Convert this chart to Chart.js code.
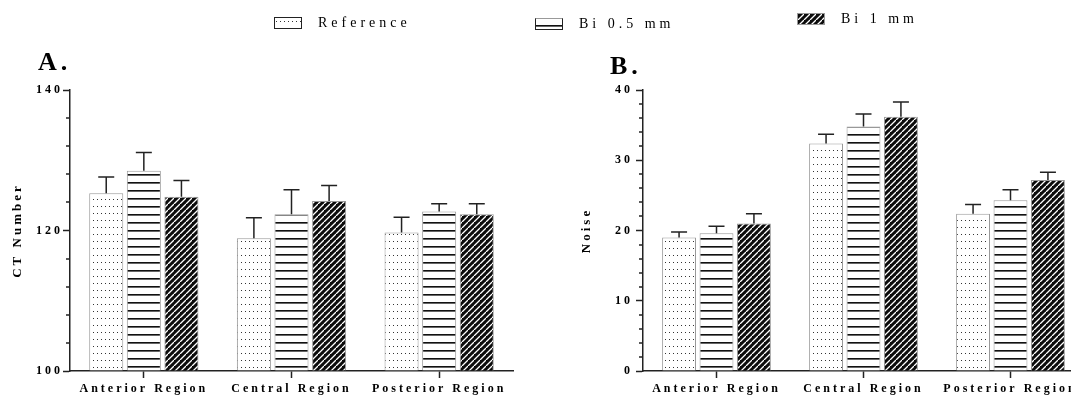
<!DOCTYPE html>
<html lang="en">
<head>
  <meta charset="UTF-8" />
  <title>CT Number and Noise</title>
  <style>
    body {
      margin: 0;
      width: 1071px;
      height: 399px;
      overflow: hidden;
      position: relative;
      background: #fff;
      font-family: 'Liberation Serif', 'Times New Roman', serif;
      color: #000;
    }
    canvas { position: absolute; top: 0; }
    #chartA { left: 0; }
    #chartB { left: 560px; }
    .panel-label {
      position: absolute;
      font-size: 26px;
      line-height: 26px;
      font-weight: bold;
      letter-spacing: 4px;
    }
    .legend-item {
      position: absolute;
      display: flex;
      align-items: center;
      font-size: 14px;
      letter-spacing: 4px;
      white-space: nowrap;
    }
    .swatch {
      width: 28px;
      height: 12px;
      margin-right: 16px;
      box-sizing: border-box;
    }
  </style>
</head>
<body>
  <canvas id="chartA" width="530" height="399"></canvas>
  <canvas id="chartB" width="540" height="399"></canvas>

  <div class="panel-label" style="left:38px; top:49px;">A.</div>
  <div class="panel-label" style="left:610px; top:53px;">B.</div>

  <div class="legend-item" style="left:274px; top:15px;"><div class="swatch" id="swRef" style="border:1px solid #222;"></div>Reference</div>
  <div class="legend-item" style="left:535px; top:16px;"><div class="swatch" id="swBi05" style="border:1px solid #222; border-top-color:#999;"></div>Bi 0.5 mm</div>
  <div class="legend-item" style="left:797px; top:11px;"><div class="swatch" id="swBi1" style="border:1px solid #999;"></div>Bi 1 mm</div>

  <script src="https://cdn.jsdelivr.net/npm/chart.js"></script>
  <script>
    // data
    const categories = ['Anterior Region', 'Central Region', 'Posterior Region'];
    const seriesNames = ['Reference', 'Bi 0.5 mm', 'Bi 1 mm'];

    const ctRef = [125.3, 118.9, 119.7];
    const ctRefErr = [2.3, 2.9, 2.2];
    const ctBi05 = [128.5, 122.3, 122.7];
    const ctBi05Err = [2.6, 3.5, 1.1];
    const ctBi1 = [124.8, 124.2, 122.3];
    const ctBi1Err = [2.3, 2.2, 1.5];

    const noiseRef = [19.0, 32.4, 22.4];
    const noiseRefErr = [0.8, 1.3, 1.3];
    const noiseBi05 = [19.6, 34.8, 24.3];
    const noiseBi05Err = [1.0, 1.8, 1.5];
    const noiseBi1 = [21.0, 36.2, 27.2];
    const noiseBi1Err = [1.4, 2.1, 1.1];

    const ctTicks = [100, 120, 140];
    const noiseTicks = [0, 10, 20, 30, 40];

    // fill patterns
    function makePattern(kind) {
      const c = document.createElement('canvas');
      const g = c.getContext('2d');
      if (kind === 'dots') {
        c.width = 4; c.height = 7;
        g.fillStyle = '#fff'; g.fillRect(0, 0, 4, 7);
        g.fillStyle = '#333'; g.fillRect(1, 3, 1, 1);
      } else if (kind === 'lines') {
        c.width = 4; c.height = 8;
        g.fillStyle = '#fff'; g.fillRect(0, 0, 4, 8);
        g.fillStyle = '#111'; g.fillRect(0, 6, 4, 1);
        g.fillStyle = '#666'; g.fillRect(0, 7, 4, 1);
      } else {
        c.width = 6; c.height = 6;
        g.fillStyle = '#0c0c0c'; g.fillRect(0, 0, 6, 6);
        g.strokeStyle = '#fff'; g.lineWidth = 1.3;
        g.beginPath();
        for (let k = -6; k <= 6; k += 6) { g.moveTo(k, 6); g.lineTo(k + 6, 0); }
        g.stroke();
        g.fillStyle = '#0c0c0c'; g.fillRect(0, 0, 2, 1);
      }
      return c;
    }
    const tiles = [makePattern('dots'), makePattern('lines'), makePattern('hatch')];
    ['swRef', 'swBi05', 'swBi1'].forEach((id, i) => {
      document.getElementById(id).style.background = 'url(' + tiles[i].toDataURL() + ')';
    });

    const spacing = {
      id: 'spacing',
      beforeLayout(chart) { chart.ctx.letterSpacing = '3px'; },
      beforeDraw(chart) { chart.ctx.letterSpacing = '3px'; }
    };

    const errorBars = {
      id: 'errorBars',
      afterDatasetsDraw(chart) {
        const ctx = chart.ctx, y = chart.scales.y;
        ctx.save();
        ctx.strokeStyle = '#222';
        ctx.lineWidth = 1.5;
        chart.data.datasets.forEach((ds, i) => {
          chart.getDatasetMeta(i).data.forEach((bar, j) => {
            const top = y.getPixelForValue(ds.data[j] + ds.errors[j]);
            ctx.beginPath();
            ctx.moveTo(bar.x, bar.y);
            ctx.lineTo(bar.x, top);
            ctx.moveTo(bar.x - 8, top);
            ctx.lineTo(bar.x + 8, top);
            ctx.stroke();
          });
        });
        ctx.restore();
      }
    };

    const minorTicks = {
      id: 'minorTicks',
      afterDraw(chart, args, opts) {
        const ctx = chart.ctx, y = chart.scales.y;
        ctx.save();
        ctx.strokeStyle = '#222';
        ctx.lineWidth = 1.5;
        y.ticks.forEach(t => {
          if (opts.major.includes(t.value)) return;
          const py = Math.round(y.getPixelForValue(t.value));
          ctx.beginPath();
          ctx.moveTo(y.right - 4, py);
          ctx.lineTo(y.right, py);
          ctx.stroke();
        });
        ctx.restore();
      }
    };

    Chart.defaults.font.family = "'Liberation Serif', 'Times New Roman', serif";
    Chart.defaults.color = '#000';

    function makeChart(id, cfg) {
      const datasets = [cfg.ref, cfg.bi05, cfg.bi1].map((vals, i) => ({
        label: seriesNames[i],
        data: vals,
        errors: cfg.errs[i],
        base: cfg.min,
        backgroundColor: document.getElementById(id).getContext('2d').createPattern(tiles[i], 'repeat'),
        borderColor: '#999',
        borderWidth: 1,
        categoryPercentage: 0.764,
        barPercentage: 0.905
      }));
      return new Chart(document.getElementById(id), {
        type: 'bar',
        data: { labels: categories, datasets },
        plugins: [spacing, errorBars, minorTicks],
        options: {
          responsive: false,
          animation: false,
          layout: { padding: { top: 90, right: cfg.padRight, left: 0, bottom: 0 } },
          plugins: {
            legend: { display: false },
            tooltip: { enabled: false },
            minorTicks: { major: cfg.major }
          },
          scales: {
            x: {
              afterFit(s) { s.height = 28; },
              grid: { display: true, offset: false, drawOnChartArea: false, tickLength: 7, tickColor: '#222', tickWidth: 1.5 },
              border: { display: true, color: '#222', width: 1.5 },
              ticks: { font: { size: 12, weight: 'bold' }, padding: 4, maxRotation: 0, autoSkip: false }
            },
            y: {
              min: cfg.min,
              max: cfg.max,
              afterFit(s) { s.width = cfg.axisWidth; },
              afterBuildTicks(s) {
                s.ticks = [];
                for (let v = cfg.min; v <= cfg.max + 1e-9; v += cfg.minorStep) s.ticks.push({ value: v });
              },
              grid: {
                drawOnChartArea: false,
                tickLength: 7,
                tickWidth: 1.5,
                tickColor: c => cfg.major.includes(c.tick.value) ? '#222' : 'rgba(0,0,0,0)'
              },
              border: { display: true, color: '#222', width: 1.5 },
              ticks: {
                font: { size: 12, weight: 'bold' },
                padding: cfg.tickPad,
                autoSkip: false,
                callback: v => cfg.major.includes(v) ? String(v) : ''
              },
              title: {
                display: true,
                text: cfg.title,
                font: { size: 13, weight: 'bold' },
                padding: { top: cfg.titlePad, bottom: 0 }
              }
            }
          }
        }
      });
    }

    makeChart('chartA', {
      ref: ctRef, bi05: ctBi05, bi1: ctBi1,
      errs: [ctRefErr, ctBi05Err, ctBi1Err],
      min: 100, max: 140, minorStep: 4, major: ctTicks,
      title: 'CT Number', axisWidth: 70, padRight: 17, tickPad: 0, titlePad: 10
    });

    makeChart('chartB', {
      ref: noiseRef, bi05: noiseBi05, bi1: noiseBi1,
      errs: [noiseRefErr, noiseBi05Err, noiseBi1Err],
      min: 0, max: 40, minorStep: 2, major: noiseTicks,
      title: 'Noise', axisWidth: 83, padRight: 16, tickPad: 3, titlePad: 19
    });
  </script>
</body>
</html>
